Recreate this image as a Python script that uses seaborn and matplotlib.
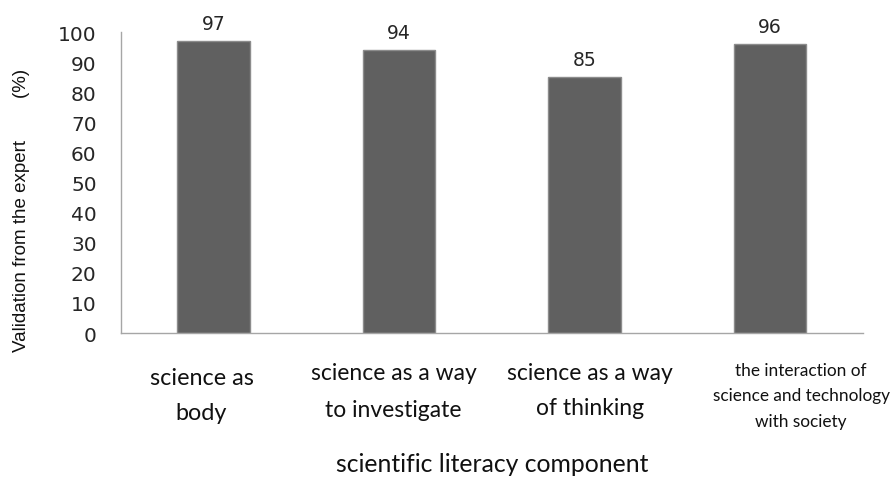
import matplotlib
matplotlib.use("Agg")
import matplotlib.pyplot as plt
import seaborn as sns
import pandas as pd

# Expert validation per scientific literacy component
components = [
    "science as\nbody",
    "science as a way\nto investigate",
    "science as a way\nof thinking",
    "the interaction of\nscience and technology\nwith society",
]
validation = [97, 94, 85, 96]
y_ticks = [0, 10, 20, 30, 40, 50, 60, 70, 80, 90, 100]

df = pd.DataFrame({"component": components, "validation": validation})

sns.set_style("white")
plt.rcParams["font.family"] = ["DejaVu Sans"]

fig = plt.figure(figsize=(8.93, 4.81), dpi=100)
ax = fig.add_axes([0.1352, 0.3056, 0.8312, 0.6252])

sns.barplot(data=df, x="component", y="validation", ax=ax,
            color="#606060", saturation=1, width=0.39,
            edgecolor="#8c8c8c", linewidth=1)

ax.set_ylim(0, 100)
ax.set_yticks(y_ticks)
ax.tick_params(axis="y", direction="out", length=6.3, width=1,
               color="#a6a6a6", pad=11, labelsize=14.5, labelcolor="#262626")
ax.tick_params(axis="x", length=0, labelbottom=False)

for side in ["top", "right"]:
    ax.spines[side].set_visible(False)
for side in ["left", "bottom"]:
    ax.spines[side].set_color("#a6a6a6")
    ax.spines[side].set_linewidth(1)

# value labels above the bars
ax.bar_label(ax.containers[0], fmt="%d", padding=6, fontsize=13.5,
             color="#262626")

# category labels beneath the axis
label_font = ["Lato", "DejaVu Sans"]
shifts = [-0.065, -0.03, 0.03, 0.167]
tops = [-0.112, -0.095, -0.095, -0.095]
sizes = [16.8, 16.5, 16.5, 12.4]
spacing = [1.83, 1.98, 1.82, 1.76]
xform = ax.get_xaxis_transform()
for i, name in enumerate(components):
    ax.text(i + shifts[i], tops[i], name, transform=xform, ha="center",
            va="top", fontsize=sizes[i], family=label_font,
            linespacing=spacing[i], color="#111111")

ax.set_xlabel("")
ax.set_ylabel("")
fig.text(0.551, 0.018, "scientific literacy component", ha="center",
         va="baseline", fontsize=17.8, family=label_font, color="#111111")
fig.text(0.024, 0.563, "Validation from the expert        (%)",
         rotation=90, ha="center", va="center", fontsize=13.5,
         family=["Liberation Sans", "DejaVu Sans"], color="#111111")

fig.savefig("out.png", dpi=100)
